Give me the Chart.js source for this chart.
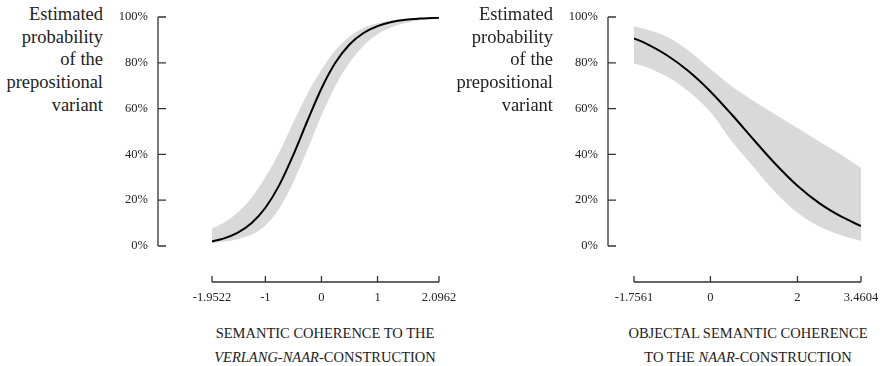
<!DOCTYPE html>
<html>
<head>
<meta charset="utf-8">
<script src="https://cdn.jsdelivr.net/npm/chart.js@4/dist/chart.umd.min.js"></script>
<style>
  body { margin: 0; background: #fff; width: 885px; height: 366px; position: relative; overflow: hidden; }
  canvas { position: absolute; top: 0; }
  .ytitle {
    position: absolute; top: 3px; width: 103px; text-align: right;
    font-family: "Liberation Serif", serif; font-size: 18.5px; line-height: 22.7px; color: #222;
  }
  .xtitle {
    position: absolute; top: 321px; width: 300px; text-align: center;
    font-family: "Liberation Serif", serif; font-size: 14.5px; line-height: 24px; color: #222;
  }
</style>
</head>
<body>

<div class="ytitle" style="left:0">Estimated<br>probability<br>of the<br>prepositional<br>variant</div>
<canvas id="coherenceChart" width="350" height="310" style="left:110px"></canvas>
<div class="xtitle" style="left:175px">SEMANTIC COHERENCE TO THE<br><i>VERLANG-NAAR</i>-CONSTRUCTION</div>

<div class="ytitle" style="left:450px">Estimated<br>probability<br>of the<br>prepositional<br>variant</div>
<canvas id="objectalChart" width="325" height="310" style="left:560px"></canvas>
<div class="xtitle" style="left:598px">OBJECTAL SEMANTIC COHERENCE<br>TO THE <i>NAAR</i>-CONSTRUCTION</div>

<script>
// probability axis (percent)
const yTicks = [0, 20, 40, 60, 80, 100];

// semantic coherence to the verlang-naar-construction
const coherenceX = [-1.9522, -1.75, -1.5, -1.25, -1, -0.75, -0.5, -0.25, 0, 0.25, 0.5, 0.75, 1, 1.25, 1.5, 1.75, 2.0962];
const coherenceFit = [2.0, 3.2, 5.7, 9.9, 16.7, 26.7, 39.9, 54.7, 68.8, 80.1, 88.0, 93.0, 96.0, 97.8, 98.8, 99.3, 99.7];
const coherenceUpper = [7.5, 10.0, 14.5, 21, 30, 41, 54, 66.5, 77, 85.5, 91.5, 95.2, 97.3, 98.5, 99.2, 99.6, 99.8];
const coherenceLower = [1.3, 1.9, 3.0, 5.0, 9.0, 16.5, 28, 42, 57, 70, 80, 87.5, 92.5, 95.5, 97.5, 98.6, 99.4];
const coherenceTicks = [-1.9522, -1, 0, 1, 2.0962];

// objectal semantic coherence to the naar-construction
const objectalX = [-1.7561, -1.5, -1, -0.5, 0, 0.5, 1, 1.5, 2, 2.5, 3, 3.4604];
const objectalFit = [90.7, 88.6, 83.3, 76.3, 67.5, 57.2, 46.3, 35.7, 26.3, 18.7, 12.9, 8.7];
const objectalUpper = [96.0, 94.8, 91.4, 85.3, 77.3, 69.6, 63.2, 57.3, 51.5, 45.6, 39.8, 34.2];
const objectalLower = [79.7, 78.3, 74.0, 67.5, 58.5, 45.5, 34.3, 23.3, 14.5, 8.5, 4.7, 2.2];
const objectalTicks = [-1.7561, 0, 2, 3.4604];

const tickFont = { family: "Liberation Serif", size: 12.5 };

function points(xs, ys) {
    return xs.map((x, i) => ({ x: x, y: ys[i] }));
}

// R-style axes: detached from the plot region, ticks pointing inwards
const offsetAxes = {
    id: "offsetAxes",
    afterDraw(chart, args, opts) {
        const { ctx, chartArea, scales } = chart;
        const x = scales.x, y = scales.y;
        const ax = chartArea.left - opts.yGap;
        const ay = chartArea.bottom + opts.xGap;

        ctx.save();
        ctx.strokeStyle = "#333";
        ctx.lineWidth = 1.3;
        ctx.beginPath();
        ctx.moveTo(ax, y.getPixelForValue(0));
        ctx.lineTo(ax, y.getPixelForValue(100));
        y.ticks.forEach(t => {
            const py = y.getPixelForValue(t.value);
            ctx.moveTo(ax, py);
            ctx.lineTo(ax + 8, py);
        });
        ctx.moveTo(x.getPixelForValue(x.min), ay);
        ctx.lineTo(x.getPixelForValue(x.max), ay);
        x.ticks.forEach(t => {
            const px = x.getPixelForValue(t.value);
            ctx.moveTo(px, ay);
            ctx.lineTo(px, ay - 6);
        });
        ctx.stroke();
        ctx.restore();
    }
};

function makeChart(id, xs, fit, upper, lower, xTicks, cfg) {
    const ctx = document.getElementById(id).getContext("2d");
    return new Chart(ctx, {
        type: "line",
        data: {
            datasets: [
                {
                    data: points(xs, fit),
                    borderColor: "#000",
                    borderWidth: 2,
                    pointRadius: 0,
                    fill: false,
                    cubicInterpolationMode: "monotone"
                },
                {
                    data: points(xs, upper),
                    borderColor: "rgba(0,0,0,0)",
                    backgroundColor: "#d9d9d9",
                    pointRadius: 0,
                    fill: "+1",
                    cubicInterpolationMode: "monotone"
                },
                {
                    data: points(xs, lower),
                    borderColor: "rgba(0,0,0,0)",
                    pointRadius: 0,
                    fill: false,
                    cubicInterpolationMode: "monotone"
                }
            ]
        },
        options: {
            responsive: false,
            animation: false,
            layout: { padding: { top: 17, right: cfg.right, bottom: 0, left: 0 } },
            plugins: {
                legend: { display: false },
                tooltip: { enabled: false },
                offsetAxes: { yGap: cfg.yGap, xGap: 36 }
            },
            scales: {
                x: {
                    type: "linear",
                    min: xs[0],
                    max: xs[xs.length - 1],
                    grid: { display: false, drawTicks: false },
                    border: { display: false },
                    afterFit: s => {
                        // labels sit far below, so keep them from eating into the plot width
                        s.height = 64;
                        s.paddingLeft = 0;
                        s.paddingRight = 0;
                    },
                    afterBuildTicks: s => { s.ticks = xTicks.map(v => ({ value: v })); },
                    ticks: {
                        padding: 44,
                        maxRotation: 0,
                        color: "#222",
                        font: tickFont,
                        callback: v => String(v)
                    }
                },
                y: {
                    min: 0,
                    max: 100,
                    grid: { display: false, drawTicks: false },
                    border: { display: false },
                    afterFit: s => {
                        s.width = cfg.left;
                        s.paddingTop = 0;
                        s.paddingBottom = 0;
                    },
                    afterBuildTicks: s => { s.ticks = yTicks.map(v => ({ value: v })); },
                    ticks: {
                        padding: cfg.yGap + 10,
                        color: "#222",
                        font: tickFont,
                        callback: v => v + "%"
                    }
                }
            }
        },
        plugins: [offsetAxes]
    });
}

makeChart("coherenceChart", coherenceX, coherenceFit, coherenceUpper, coherenceLower, coherenceTicks,
    { left: 102, right: 21, yGap: 54 });
makeChart("objectalChart", objectalX, objectalFit, objectalUpper, objectalLower, objectalTicks,
    { left: 74, right: 24, yGap: 26 });
</script>
</body>
</html>
